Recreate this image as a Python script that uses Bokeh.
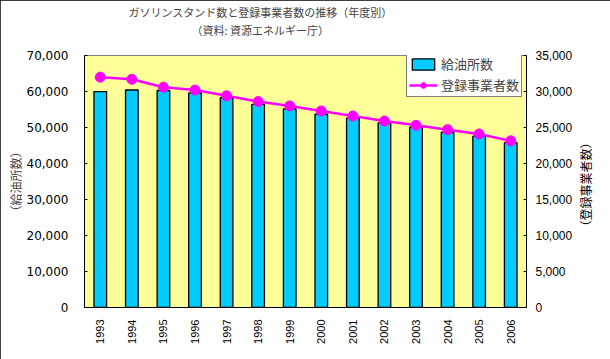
import math
from bokeh.plotting import figure
from bokeh.models import (Range1d, LinearAxis, NumeralTickFormatter, FixedTicker,
                          Title, Label, Legend, LegendItem, FactorRange, ColumnDataSource)
from bokeh.embed import file_html
from bokeh.resources import INLINE

years = ["1993", "1994", "1995", "1996", "1997", "1998", "1999",
         "2000", "2001", "2002", "2003", "2004", "2005", "2006"]
stations = [59990, 60421, 60275, 59615, 58263, 56444, 55153,
            53704, 52592, 51294, 50067, 48672, 47584, 45792]
operators = [31990, 31700, 30600, 30200, 29400, 28600, 28000,
             27300, 26600, 25900, 25300, 24700, 24100, 23150]
left_ticks = [0, 10000, 20000, 30000, 40000, 50000, 60000, 70000]
right_ticks = [0, 5000, 10000, 15000, 20000, 25000, 30000, 35000]

title1 = "ガソリンスタンド数と登録事業者数の推移（年度別）"
title2 = "（資料: 資源エネルギー庁）"
left_title = "（給油所数）"
right_title = "（登録事業者数）"
bar_name = "給油所数"
line_name = "登録事業者数"

JP = "Noto Sans CJK JP"
JP_TIGHT = "Liberation Sans, Noto Sans CJK JP"

src = ColumnDataSource(dict(year=years, stations=stations, operators=operators))

p = figure(x_range=FactorRange(*years), y_range=Range1d(0, 70000),
           frame_width=442, frame_height=252,
           min_border_left=84, min_border_right=84,
           min_border_top=55, min_border_bottom=52,
           output_backend="svg", toolbar_location=None, title_location=None,
           background_fill_color="#FFFF99", border_fill_color="white")
p.styles = {"outline": "1px solid black", "outline-offset": "-1px"}
p.extra_y_ranges = {"right": Range1d(0, 35000)}
p.xgrid.visible = False
p.ygrid.visible = False
p.outline_line_color = "#808080"
p.outline_line_width = 1

# left axis
ya = p.yaxis[0]
ya.ticker = FixedTicker(ticks=left_ticks)
ya.formatter = NumeralTickFormatter(format="0,0")
ya.major_label_text_font = "DejaVu Sans"
ya.major_label_text_font_size = "12px"
ya.major_label_text_color = "black"
ya.major_label_standoff = 16
ya.major_tick_in = 3
ya.major_tick_out = 0
ya.minor_tick_line_color = None
ya.axis_line_color = "black"
ya.major_tick_line_color = "black"
ya.axis_label = left_title
ya.axis_label_text_font = JP
ya.axis_label_text_font_size = "12px"
ya.axis_label_text_font_style = "normal"
ya.axis_label_standoff = 0

# right axis
ra = LinearAxis(y_range_name="right", ticker=FixedTicker(ticks=right_ticks),
                formatter=NumeralTickFormatter(format="0,0"))
ra.major_label_text_font = "Liberation Sans"
ra.major_label_text_font_size = "12px"
ra.major_label_text_color = "black"
ra.major_label_standoff = 9
ra.major_tick_in = 3
ra.major_tick_out = 0
ra.minor_tick_line_color = None
ra.axis_line_color = "black"
p.add_layout(ra, "right")

# right axis title, reading bottom to top, in its own side panel
p.add_layout(Label(x=10, y=123, x_units="screen", y_units="screen", text=right_title,
                   angle=math.pi / 2, text_align="center", text_baseline="middle",
                   text_font=JP, text_font_size="12px", text_color="black"), "right")

# x axis
xa = p.xaxis[0]
xa.major_label_orientation = math.pi / 2
xa.major_label_text_font = "Liberation Sans"
xa.major_label_text_font_size = "11px"
xa.major_label_text_color = "black"
xa.major_label_standoff = 6
xa.major_tick_line_color = None
xa.axis_line_color = "black"

bars = p.vbar(x="year", top="stations", width=0.4, source=src,
              fill_color="#00CCFF", line_color="black", line_width=1.3)
line = p.line(x="year", y="operators", source=src, y_range_name="right",
              line_color="#FF00FF", line_width=2.5)
pts = p.scatter(x="year", y="operators", source=src, y_range_name="right",
                size=10, fill_color="#FF00FF", line_color="#FF00FF")

legend = Legend(items=[LegendItem(label=bar_name, renderers=[bars]),
                       LegendItem(label=line_name, renderers=[line, pts])],
                location=(322, 210))
legend.border_line_color = "black"
legend.border_line_width = 1
legend.background_fill_color = "white"
legend.background_fill_alpha = 1
legend.label_text_font = JP_TIGHT
legend.label_text_font_size = "13px"
legend.label_text_line_height = 1.0
legend.glyph_width = 28
legend.glyph_height = 14
legend.label_height = 14
legend.padding = 2
legend.spacing = 2
legend.label_standoff = 4
legend.margin = 0
p.add_layout(legend)

# titles (first added sits nearest the plot)
p.add_layout(Title(text=" ", text_font_size="10px", standoff=5), "above")
p.add_layout(Title(text=title2, align="left", offset=107, text_font=JP,
                   text_font_size="11px", text_font_style="normal",
                   standoff=0), "above")
p.add_layout(Title(text=title1, align="left", offset=44, text_font=JP,
                   text_font_size="11px", text_font_style="normal",
                   standoff=0), "above")

open("out.html", "w").write(file_html(p, INLINE))
